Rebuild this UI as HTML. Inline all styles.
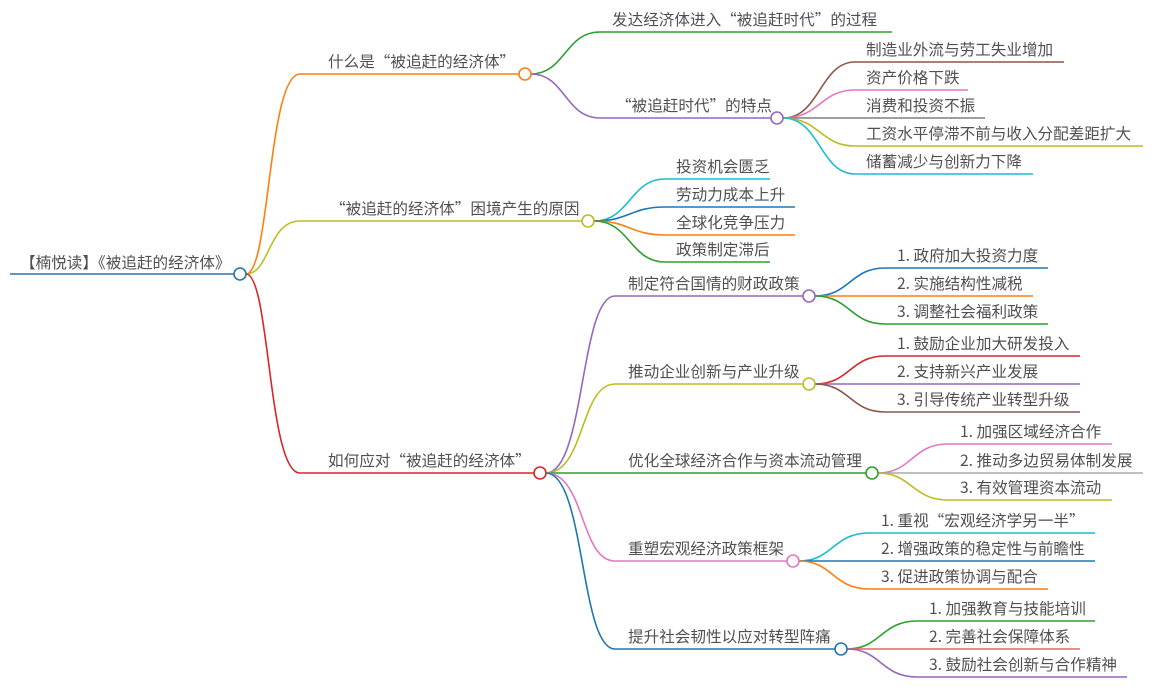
<!DOCTYPE html>
<html><head><meta charset="utf-8"><style>
html,body{margin:0;padding:0;background:#fff;}
svg{display:block;}
text{font-family:"Noto Sans CJK SC","Liberation Sans",sans-serif;font-size:15.6px;fill:#505050;}
path{fill:none;stroke-width:1.6;}
circle{fill:#fff;stroke-width:1.6;}
</style></head><body>
<svg width="1163" height="694" viewBox="0 0 1163 694">
<path d="M10 274 H234" stroke="#2a74b4" stroke-width="3"/>
<text x="20" y="268">【楠悦读】《被追赶的经济体》</text>

<path d="M246 274 C270 274,268 74,300 74 H519" stroke="#ff7f0e"/>
<text x="328" y="67">什么是“被追赶的经济体”</text>
<path d="M246 274 C270 274,268 221,300 221 H582" stroke="#bcbd22"/>
<text x="330" y="214">“被追赶的经济体”困境产生的原因</text>
<path d="M246 274 C270 274,268 473,300 473 H534" stroke="#d62728"/>
<text x="328" y="466">如何应对“被追赶的经济体”</text>

<path d="M531 74 C565 74,565 32,600 32 H892" stroke="#2ca02c"/>
<text x="612" y="25">发达经济体进入“被追赶时代”的过程</text>
<path d="M531 74 C565 74,565 118,600 118 H771" stroke="#9467bd"/>
<text x="616" y="111">“被追赶时代”的特点</text>

<path d="M783 118 C820 118,820 62,855 62 H1064" stroke="#8c564b"/>
<text x="866" y="55">制造业外流与劳工失业增加</text>
<path d="M783 118 C820 118,820 90,855 90 H968" stroke="#e377c2"/>
<text x="866" y="83">资产价格下跌</text>
<path d="M783 118 H985" stroke="#7f7f7f"/>
<text x="866" y="111">消费和投资不振</text>
<path d="M783 118 C820 118,820 146,855 146 H1143" stroke="#bcbd22"/>
<text x="866" y="139">工资水平停滞不前与收入分配差距扩大</text>
<path d="M783 118 C820 118,820 174,855 174 H1033" stroke="#17becf"/>
<text x="866" y="167">储蓄减少与创新力下降</text>

<path d="M594 221 C630 221,630 179,665 179 H770" stroke="#17becf"/>
<text x="676" y="172">投资机会匮乏</text>
<path d="M594 221 C630 221,630 207,665 207 H795" stroke="#1f77b4"/>
<text x="676" y="200">劳动力成本上升</text>
<path d="M594 221 C630 221,630 235,665 235 H795" stroke="#ff7f0e"/>
<text x="676" y="228">全球化竞争压力</text>
<path d="M594 221 C630 221,630 262,665 262 H770" stroke="#2ca02c"/>
<text x="676" y="255">政策制定滞后</text>

<path d="M546 473 C585 473,580 296,615 296 H803" stroke="#9467bd"/>
<text x="628" y="289">制定符合国情的财政政策</text>
<path d="M546 473 C585 473,580 384,615 384 H803" stroke="#bcbd22"/>
<text x="628" y="377">推动企业创新与产业升级</text>
<path d="M546 473 H866" stroke="#2ca02c"/>
<text x="628" y="466">优化全球经济合作与资本流动管理</text>
<path d="M546 473 C585 473,580 561,615 561 H787" stroke="#e377c2"/>
<text x="628" y="554">重塑宏观经济政策框架</text>
<path d="M546 473 C585 473,580 649,615 649 H835" stroke="#1f77b4"/>
<text x="628" y="642">提升社会韧性以应对转型阵痛</text>

<path d="M815 296 C850 296,850 268,885 268 H1048" stroke="#1f77b4"/>
<text x="897" y="261">1. 政府加大投资力度</text>
<path d="M815 296 H1033" stroke="#ff7f0e"/>
<text x="897" y="289">2. 实施结构性减税</text>
<path d="M815 296 C850 296,850 324,885 324 H1048" stroke="#2ca02c"/>
<text x="897" y="317">3. 调整社会福利政策</text>

<path d="M815 384 C850 384,850 356,885 356 H1080" stroke="#d62728"/>
<text x="897" y="349">1. 鼓励企业加大研发投入</text>
<path d="M815 384 H1080" stroke="#9467bd"/>
<text x="897" y="377">2. 支持新兴产业发展</text>
<path d="M815 384 C850 384,850 412,885 412 H1080" stroke="#8c564b"/>
<text x="897" y="405">3. 引导传统产业转型升级</text>

<path d="M878 473 C912 473,912 444,948 444 H1112" stroke="#e377c2"/>
<text x="960" y="437">1. 加强区域经济合作</text>
<path d="M878 473 H1143" stroke="#aaaaaa"/>
<text x="960" y="466">2. 推动多边贸易体制发展</text>
<path d="M878 473 C912 473,912 500,948 500 H1112" stroke="#bcbd22"/>
<text x="960" y="493">3. 有效管理资本流动</text>

<path d="M799 561 C833 561,833 533,869 533 H1095" stroke="#17becf"/>
<text x="881" y="526">1. 重视“宏观经济学另一半”</text>
<path d="M799 561 H1095" stroke="#1f77b4"/>
<text x="881" y="554">2. 增强政策的稳定性与前瞻性</text>
<path d="M799 561 C833 561,833 589,869 589 H1048" stroke="#ff7f0e"/>
<text x="881" y="582">3. 促进政策协调与配合</text>

<path d="M847 649 C881 649,881 621,917 621 H1095" stroke="#2ca02c"/>
<text x="929" y="614">1. 加强教育与技能培训</text>
<path d="M847 649 H1080" stroke="#e06666"/>
<text x="929" y="642">2. 完善社会保障体系</text>
<path d="M847 649 C881 649,881 677,917 677 H1127" stroke="#9467bd"/>
<text x="929" y="670">3. 鼓励社会创新与合作精神</text>

<circle cx="240" cy="274" r="6" stroke="#1f77b4"/>
<circle cx="525" cy="74" r="6" stroke="#ff7f0e"/>
<circle cx="588" cy="221" r="6" stroke="#bcbd22"/>
<circle cx="540" cy="473" r="6" stroke="#d62728"/>
<circle cx="777" cy="118" r="6" stroke="#9467bd"/>
<circle cx="809" cy="296" r="6" stroke="#9467bd"/>
<circle cx="809" cy="384" r="6" stroke="#bcbd22"/>
<circle cx="872" cy="473" r="6" stroke="#2ca02c"/>
<circle cx="793" cy="561" r="6" stroke="#e377c2"/>
<circle cx="841" cy="649" r="6" stroke="#1f77b4"/>
</svg>
</body></html>
